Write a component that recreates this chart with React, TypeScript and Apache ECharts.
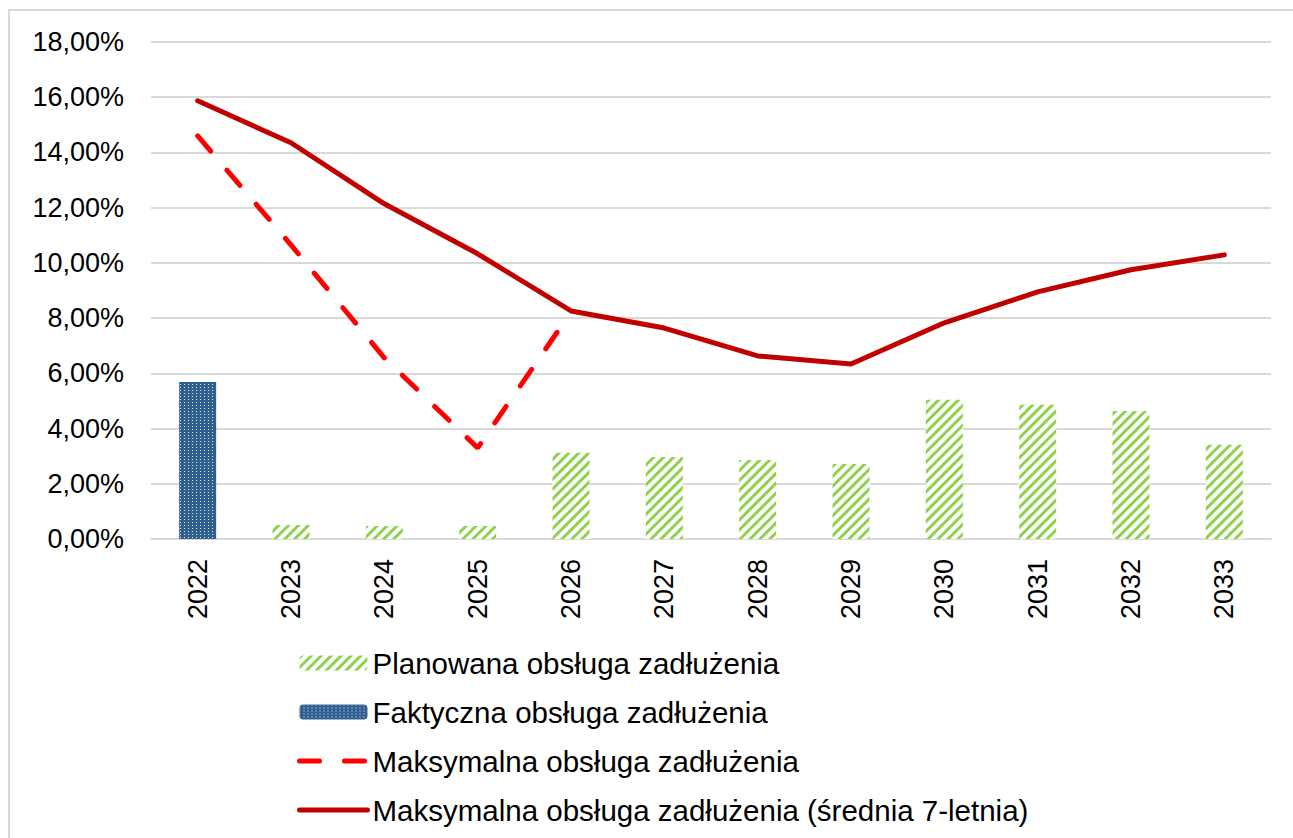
import React, { useEffect, useRef } from "react";
import * as echarts from "echarts";

const years = ["2022", "2023", "2024", "2025", "2026", "2027", "2028", "2029", "2030", "2031", "2032", "2033"];
const planned = [null, 0.51, 0.47, 0.47, 3.12, 2.97, 2.86, 2.72, 5.04, 4.86, 4.64, 3.41];
const actual = [5.69, null, null, null, null, null, null, null, null, null, null, null];
const maxService = [14.6, 10.65, 6.56, 3.3, 8.22, null, null, null, null, null, null, null];
const maxAvg7 = [15.87, 14.35, 12.14, 10.33, 8.26, 7.64, 6.63, 6.34, 7.83, 8.95, 9.75, 10.29];
const yTicks = { min: 0, max: 18, interval: 2 };
const seriesNames = [
  "Planowana obsługa zadłużenia",
  "Faktyczna obsługa zadłużenia",
  "Maksymalna obsługa zadłużenia",
  "Maksymalna obsługa zadłużenia (średnia 7-letnia)",
];

const FONT = "'Liberation Sans', Arial, sans-serif";

export default function App() {
  const ref = useRef<HTMLDivElement>(null);
  useEffect(() => {
    if (!ref.current) return;
    const chart = echarts.init(ref.current, null, { renderer: "svg" });
    const greenDecal = {
      symbol: "rect",
      symbolSize: 1,
      color: "#8fd14f",
      dashArrayX: [1, 0],
      dashArrayY: [3, 4],
      rotation: -Math.PI / 4,
    };
    const blueDecal = {
      symbol: "rect",
      symbolSize: 1,
      color: "rgba(255,255,255,0.85)",
      dashArrayX: [1, 3],
      dashArrayY: [1, 2],
      rotation: 0,
    };
    chart.setOption({
      animation: false,
      backgroundColor: "#ffffff",
      textStyle: { fontFamily: FONT },
      graphic: [
        {
          type: "rect",
          shape: { x: 9, y: 10, width: 1300, height: 900 },
          style: { fill: "none", stroke: "#d9d9d9", lineWidth: 2 },
          silent: true,
          z: -10,
        },
      ],
      grid: { left: 151, right: 22, top: 42, bottom: 299, containLabel: false },
      xAxis: {
        type: "category",
        data: years,
        boundaryGap: true,
        axisLine: { show: true, lineStyle: { color: "#d9d9d9", width: 2 } },
        axisTick: { show: false },
        axisLabel: {
          rotate: 90,
          margin: 20,
          fontSize: 27,
          color: "#000",
          fontFamily: FONT,
        },
        splitLine: { show: false },
      },
      yAxis: {
        type: "value",
        min: yTicks.min,
        max: yTicks.max,
        interval: yTicks.interval,
        axisLine: { show: false },
        axisTick: { show: false },
        axisLabel: {
          margin: 27,
          fontSize: 27,
          color: "#000",
          fontFamily: FONT,
          formatter: (v: number) => v.toFixed(2).replace(".", ",") + "%",
        },
        splitLine: { show: true, lineStyle: { color: "#d9d9d9", width: 2 } },
      },
      legend: {
        orient: "vertical",
        left: 292,
        top: 643,
        itemWidth: 68,
        itemHeight: 15,
        itemGap: 19,
        textStyle: { fontSize: 29.5, color: "#000", fontFamily: FONT },
        data: [
          { name: seriesNames[0] },
          { name: seriesNames[1] },
          {
            name: seriesNames[2],
            itemStyle: { opacity: 0 },
            lineStyle: { color: "#ff0000", width: 5, type: [20, 25], cap: "round" },
          },
          {
            name: seriesNames[3],
            itemStyle: { opacity: 0 },
            lineStyle: { color: "#c00000", width: 5, cap: "round" },
          },
        ],
      },
      series: [
        {
          name: seriesNames[0],
          type: "bar",
          stack: "bars",
          data: planned,
          barWidth: 37,
          itemStyle: { color: "#ffffff", decal: greenDecal },
        },
        {
          name: seriesNames[1],
          type: "bar",
          stack: "bars",
          data: actual,
          barWidth: 37,
          itemStyle: { color: "#2f5f91", decal: blueDecal },
        },
        {
          name: seriesNames[2],
          type: "line",
          data: maxService,
          symbol: "none",
          showSymbol: false,
          connectNulls: false,
          lineStyle: { color: "#ff0000", width: 5, type: [20, 25], cap: "round" },
          itemStyle: { color: "#ff0000" },
          z: 3,
        },
        {
          name: seriesNames[3],
          type: "line",
          data: maxAvg7,
          symbol: "none",
          showSymbol: false,
          lineStyle: { color: "#c00000", width: 5, cap: "round", join: "round" },
          itemStyle: { color: "#c00000" },
          z: 4,
        },
      ],
    });
    return () => chart.dispose();
  }, []);
  return (
    <div style={{ position: "absolute", left: 0, top: 0, width: 1293, height: 838, background: "#fff" }}>
      <div ref={ref} style={{ width: 1293, height: 838 }} />
    </div>
  );
}
